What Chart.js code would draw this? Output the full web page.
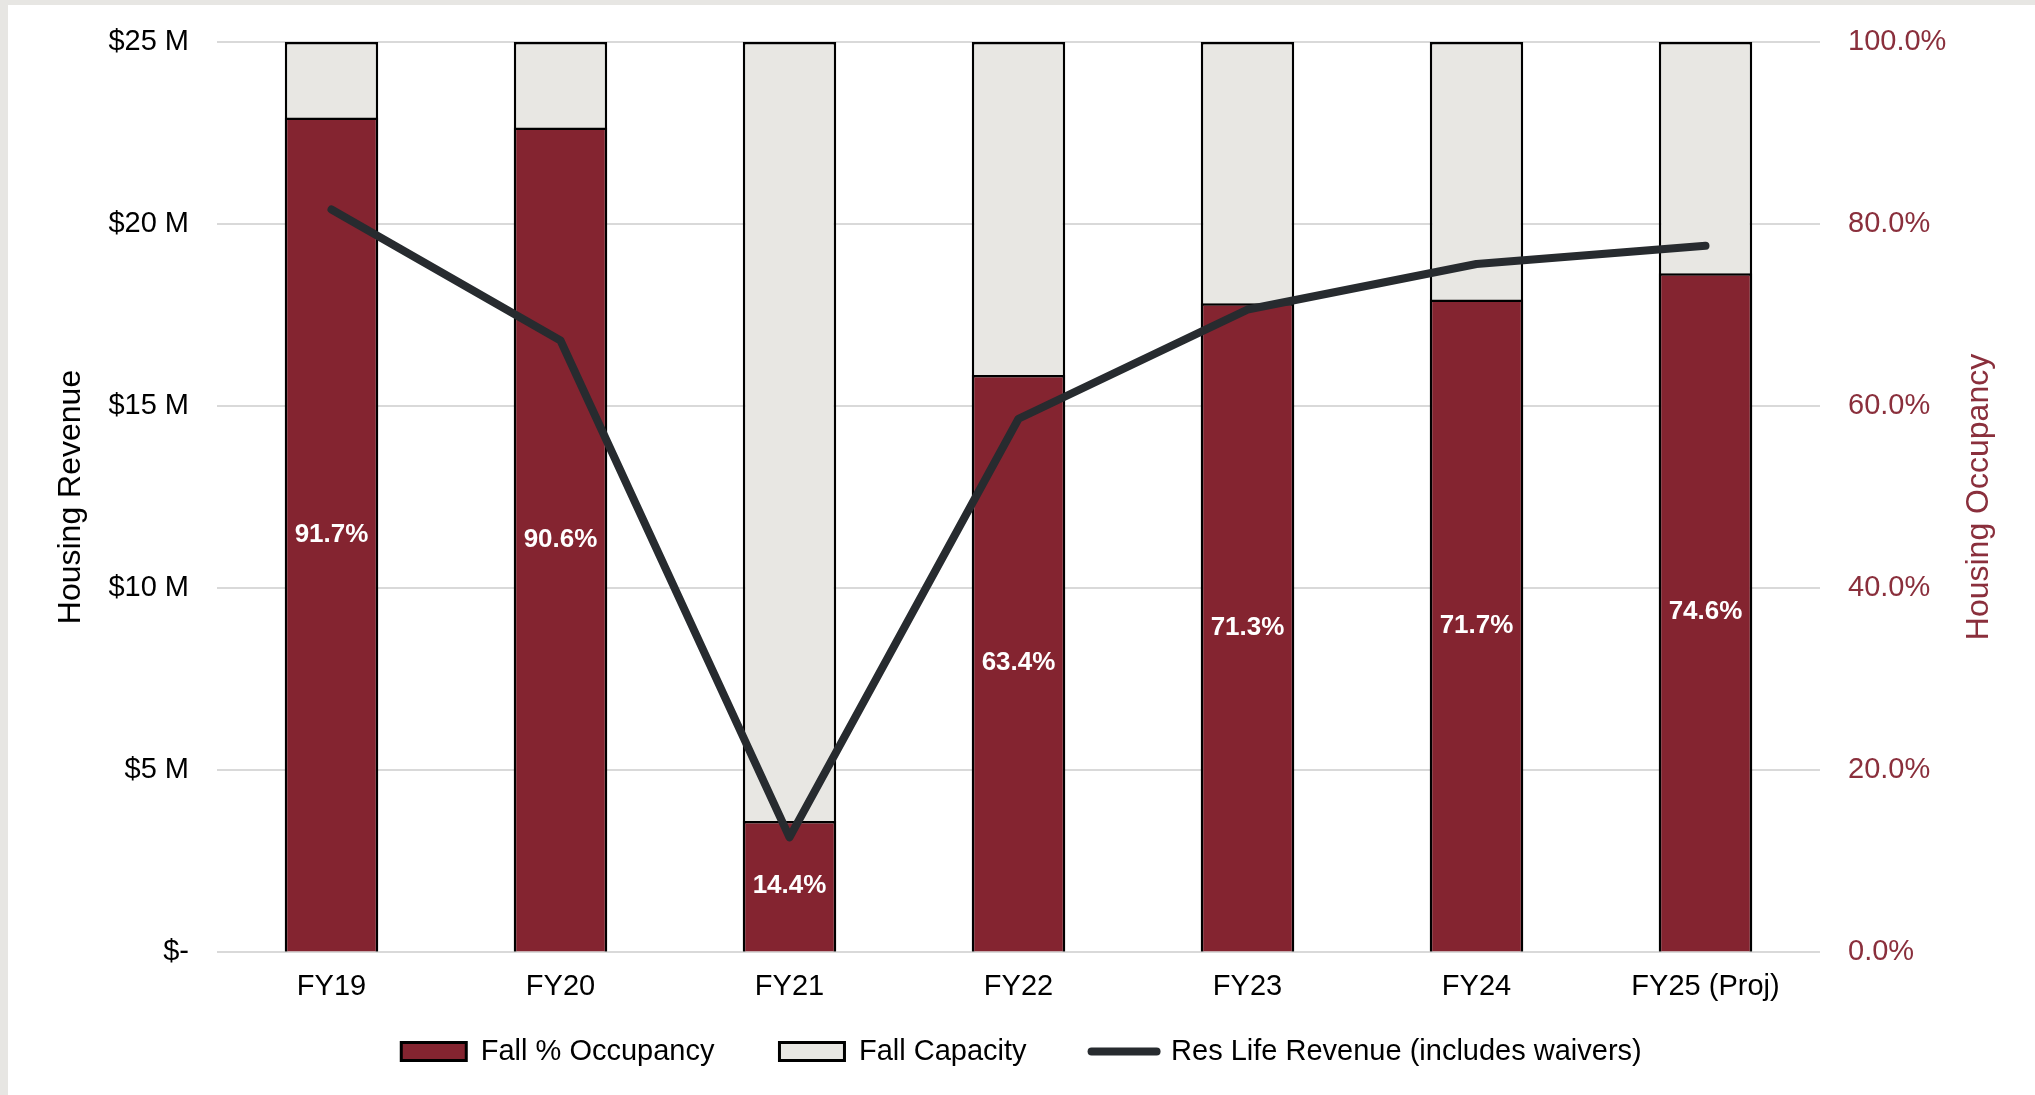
<!DOCTYPE html>
<html>
<head>
<meta charset="utf-8">
<title>Housing Revenue and Occupancy</title>
<script src="https://cdn.jsdelivr.net/npm/chart.js@4.4.1/dist/chart.umd.min.js"></script>
<style>
    html, body { margin: 0; padding: 0; background: #e7e6e3; }
    #wrap { position: absolute; left: 8px; top: 5px; width: 2027px; height: 1090px; background: #fff; }
</style>
</head>
<body>
<div id="wrap"><canvas id="housingChart"></canvas></div>
<script>
const fiscalYears = ["FY19", "FY20", "FY21", "FY22", "FY23", "FY24", "FY25 (Proj)"];
const fallOccupancy = [91.7, 90.6, 14.4, 63.4, 71.3, 71.7, 74.6];      // %
const fallCapacity = [100, 100, 100, 100, 100, 100, 100];              // %
const resLifeRevenue = [20.4, 16.8, 3.15, 14.65, 17.65, 18.9, 19.4];   // $M
const revenueTicks = [0, 5, 10, 15, 20, 25];

const MAROON = "#842430";
const PALE = "#e8e7e3";
const CHARCOAL = "#272b2f";
const AXIS_RED = "#8a2f3c";
const FONT = "'Liberation Sans', Arial, sans-serif";

Chart.defaults.font.family = FONT;
Chart.defaults.color = "#000";

// white percentage labels in the middle of each occupancy bar
const occupancyLabels = {
    id: "occupancyLabels",
    afterDatasetsDraw(chart) {
        const ctx = chart.ctx;
        const meta = chart.getDatasetMeta(0);
        ctx.save();
        ctx.font = "bold 26px " + FONT;
        ctx.fillStyle = "#fff";
        ctx.textAlign = "center";
        ctx.textBaseline = "middle";
        meta.data.forEach((bar, i) => {
            ctx.fillText(fallOccupancy[i].toFixed(1) + "%", bar.x, (bar.y + bar.base) / 2);
        });
        ctx.restore();
    }
};

// right axis title reads bottom-to-top like the left one
const rightAxisTitle = {
    id: "rightAxisTitle",
    afterDraw(chart) {
        const ctx = chart.ctx;
        const area = chart.chartArea;
        ctx.save();
        ctx.translate(chart.scales.y1.right - 56, (area.top + area.bottom) / 2);
        ctx.rotate(-Math.PI / 2);
        ctx.font = "32px " + FONT;
        ctx.fillStyle = AXIS_RED;
        ctx.textAlign = "center";
        ctx.textBaseline = "middle";
        ctx.fillText("Housing Occupancy", 0, 0);
        ctx.restore();
    }
};

// pull the legend up closer to the category labels
const legendLift = {
    id: "legendLift",
    afterLayout(chart) {
        chart.legend.top -= 33;
        chart.legend.bottom -= 33;
    }
};

// invisible tick marks keep the labels off the plot without extra top padding
const hiddenTicks = { drawTicks: true, tickLength: 28, tickColor: "rgba(0,0,0,0)" };

const housingChart = new Chart(document.getElementById("housingChart"), {
    data: {
        labels: fiscalYears,
        datasets: [{
            type: "bar",
            label: "Fall % Occupancy",
            data: fallOccupancy,
            yAxisID: "y1",
            backgroundColor: MAROON,
            borderColor: "#000",
            borderWidth: 2.5,
            grouped: false,
            categoryPercentage: 1,
            barPercentage: 0.408,
            order: 1
        }, {
            type: "bar",
            label: "Fall Capacity",
            data: fallCapacity,
            yAxisID: "y1",
            backgroundColor: PALE,
            borderColor: "#000",
            borderWidth: 2.5,
            grouped: false,
            categoryPercentage: 1,
            barPercentage: 0.408,
            order: 2
        }, {
            type: "line",
            label: "Res Life Revenue (includes waivers)",
            data: resLifeRevenue,
            yAxisID: "y",
            borderColor: CHARCOAL,
            backgroundColor: CHARCOAL,
            borderWidth: 8,
            borderCapStyle: "round",
            borderJoinStyle: "round",
            pointRadius: 0,
            tension: 0,
            fill: false,
            order: 0
        }]
    },
    options: {
        responsive: true,
        maintainAspectRatio: false,
        animation: false,
        layout: { padding: { top: 37, bottom: -14, left: 0, right: 0 } },
        plugins: {
            tooltip: { enabled: false },
            legend: {
                position: "bottom",
                labels: {
                    font: { size: 29 },
                    color: "#000",
                    padding: 65,
                    usePointStyle: true,
                    pointStyleWidth: 65,
                    boxHeight: 18,
                    generateLabels: (chart) => chart.data.datasets.map((ds, i) => ({
                        text: ds.label,
                        datasetIndex: i,
                        fillStyle: ds.backgroundColor,
                        strokeStyle: ds.type === "line" ? CHARCOAL : "#000",
                        lineWidth: ds.type === "line" ? 8 : 3,
                        lineCap: "round",
                        pointStyle: ds.type === "line" ? "line" : "rect",
                        fontColor: "#000",
                        hidden: false
                    }))
                }
            }
        },
        scales: {
            x: {
                grid: { display: false, drawTicks: false },
                border: { display: false },
                ticks: { font: { size: 29 }, color: "#000", padding: 18 },
                afterFit: (scale) => { scale.height = 53; }
            },
            y: {
                position: "left",
                min: 0,
                max: 25,
                afterBuildTicks: (scale) => { scale.ticks = revenueTicks.map(v => ({ value: v })); },
                grid: Object.assign({ color: "#d9d9d9", lineWidth: 2 }, hiddenTicks),
                border: { display: false },
                ticks: {
                    font: { size: 29 },
                    color: "#000",
                    padding: 0,
                    callback: (v) => v === 0 ? "$-" : "$" + v + " M"
                },
                title: {
                    display: true,
                    text: "Housing Revenue",
                    font: { size: 32 },
                    color: "#000",
                    padding: { top: 44, bottom: 0 }
                },
                afterFit: (scale) => { scale.width = 209; }
            },
            y1: {
                position: "right",
                min: 0,
                max: 100,
                ticks: {
                    stepSize: 20,
                    font: { size: 29 },
                    color: AXIS_RED,
                    padding: 0,
                    callback: (v) => v.toFixed(1) + "%"
                },
                grid: Object.assign({ drawOnChartArea: false }, hiddenTicks),
                border: { display: false },
                afterFit: (scale) => { scale.width = 215; }
            }
        }
    },
    plugins: [occupancyLabels, rightAxisTitle, legendLift]
});
</script>
</body>
</html>
